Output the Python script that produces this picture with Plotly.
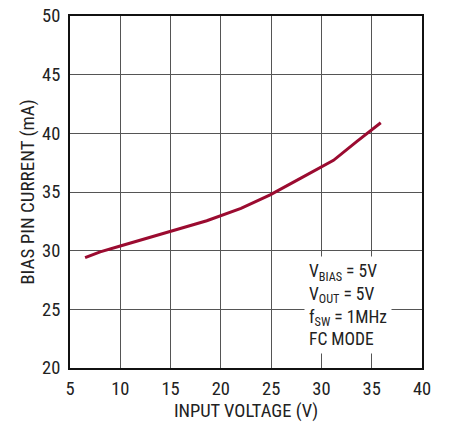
import plotly.graph_objects as go

vin = [6.5, 8.0, 10.0, 15.0, 18.6, 22.0, 24.9, 28.0, 31.2, 33.5, 35.9]
ibias = [29.4, 29.9, 30.4, 31.65, 32.55, 33.6, 34.75, 36.2, 37.7, 39.3, 40.9]

x_ticks = [5, 10, 15, 20, 25, 30, 35, 40]
y_ticks = [20, 25, 30, 35, 40, 45, 50]

FONT = "Liberation Sans Narrow, Arial Narrow, Roboto Condensed, sans-serif"

fig = go.Figure()
fig.add_trace(go.Scatter(x=vin, y=ibias, mode="lines",
                         line=dict(color="#9B0B30", width=3), showlegend=False))

fig.add_annotation(
    x=28.3, y=25.4, xref="x", yref="y", xanchor="left", yanchor="middle",
    align="left", showarrow=False,
    text="V<sub>BIAS</sub> = 5V<br>V<sub>OUT</sub> = 5V<br>f<sub>SW</sub> = 1MHz<br>FC MODE",
    font=dict(family=FONT, size=17.5, color="#222"),
    bgcolor="white", borderpad=4,
)

fig.update_layout(
    width=451, height=423,
    margin=dict(l=70, r=29, t=16, b=55, autoexpand=False),
    paper_bgcolor="white", plot_bgcolor="white",
    font=dict(family=FONT, size=18.5, color="#222"),
)
fig.update_xaxes(
    range=[5, 40], tickvals=x_ticks, ticks="outside", ticklen=3,
    tickcolor="rgba(0,0,0,0)", showgrid=True, ticklabeloverflow="allow",
    gridcolor="#555", gridwidth=1, showline=True, linecolor="#111", linewidth=2,
    mirror=True, zeroline=False,
    title=dict(text="INPUT VOLTAGE (V)", font=dict(size=18.5), standoff=3),
    tickfont=dict(size=18.5),
)
fig.update_yaxes(
    range=[20, 50], tickvals=y_ticks, ticks="outside", ticklen=4,
    tickcolor="rgba(0,0,0,0)", showgrid=True, ticklabeloverflow="allow",
    gridcolor="#555", gridwidth=1, showline=True, linecolor="#111", linewidth=2,
    mirror=True, zeroline=False,
    title=dict(text="BIAS PIN CURRENT (mA)", font=dict(size=19), standoff=2),
    tickfont=dict(size=18.5),
)

fig.write_html("out.html",
               config={"displayModeBar": False},
               post_script="document.body.style.margin='0';document.body.style.overflow='hidden';")
